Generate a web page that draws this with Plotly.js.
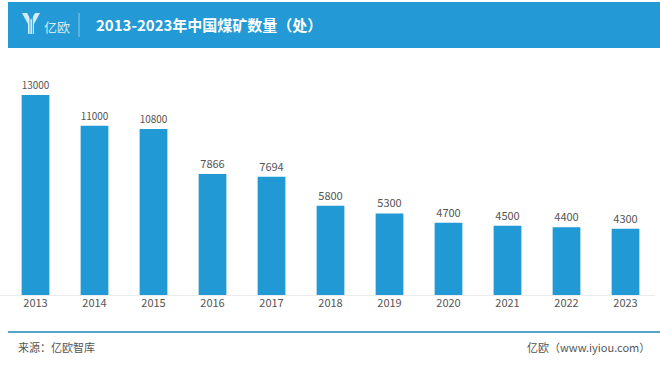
<!DOCTYPE html>
<html>
<head>
<meta charset="utf-8">
<script src="https://cdn.plot.ly/plotly-3.0.1.min.js"></script>
<style>html,body{margin:0;padding:0;background:#fff;}#chart{width:660px;height:375px;}</style>
</head>
<body>
<div id="chart"></div>
<script>
const years = ["2013","2014","2015","2016","2017","2018","2019","2020","2021","2022","2023"];
const mineCounts = [13000, 11000, 10800, 7866, 7694, 5800, 5300, 4700, 4500, 4400, 4300];
const titleText = "2013-2023年中国煤矿数量（处）";
const sourceText = "来源：亿欧智库";
const creditText = "亿欧（www.iyiou.com）";
const brandText = "亿欧";

const W = 660, H = 375;
const px = x => x / W;
const py = y => (H - y) / H;
function pathFrom(pts) {
  return pts.map((p, i) => (i ? 'L' : 'M') + px(p[0]).toFixed(5) + ',' + py(p[1]).toFixed(5)).join(' ') + ' Z';
}
const FONT = '"Noto Sans CJK SC", "Noto Sans", sans-serif';
const HEADER = '#239ad5';
const BAR = '#2199d4';

const shapes = [
  {type:'rect', xref:'paper', yref:'paper', x0:px(8), x1:px(660), y0:py(48), y1:py(2), fillcolor:HEADER, line:{width:0}, layer:'below'},
  {type:'path', xref:'paper', yref:'paper', path:pathFrom([[22,13],[27,13],[31,20],[35,13],[40,13],[34,24],[34,34],[28,34],[28,24]]), fillcolor:'#d4ebf7', line:{width:0}},
  {type:'line', xref:'paper', yref:'paper', x0:px(30), x1:px(30), y0:py(14), y1:py(34), line:{color:HEADER, width:0.8}},
  {type:'line', xref:'paper', yref:'paper', x0:px(32.5), x1:px(32.5), y0:py(14), y1:py(34), line:{color:HEADER, width:0.8}},
  {type:'line', xref:'paper', yref:'paper', x0:px(79), x1:px(79), y0:py(13), y1:py(37), line:{color:'#8fcbea', width:1}},
  {type:'line', xref:'paper', yref:'paper', x0:px(0), x1:px(655), y0:py(295.5), y1:py(295.5), line:{color:'#ebebeb', width:1}},
  {type:'line', xref:'paper', yref:'paper', x0:px(8), x1:px(660), y0:py(332), y1:py(332), line:{color:'#55a6c6', width:2}}
];

const annotations = [
  {xref:'paper', yref:'paper', x:px(42), y:py(26), xanchor:'left', yanchor:'middle', text:brandText, showarrow:false, font:{family:FONT, size:13, color:'#d4ebf7'}},
  {xref:'paper', yref:'paper', x:px(94), y:py(25), xanchor:'left', yanchor:'middle', text:'<b>' + titleText + '</b>', showarrow:false, font:{family:FONT, size:15, color:'#ffffff'}},
  {xref:'paper', yref:'paper', x:px(16), y:py(347), xanchor:'left', yanchor:'middle', text:sourceText, showarrow:false, font:{family:FONT, size:11, color:'#555555'}},
  {xref:'paper', yref:'paper', x:px(652), y:py(347), xanchor:'right', yanchor:'middle', text:creditText, showarrow:false, font:{family:FONT, size:11, color:'#555555'}}
];

const trace = {
  type:'bar', x:years, y:mineCounts,
  marker:{color:BAR, line:{width:0}},
  text:mineCounts.map(String), textposition:'outside', cliponaxis:false,
  textfont:{family:FONT, size:11, color:'#555555'},
  hoverinfo:'x+y'
};

const layout = {
  width:W, height:H,
  margin:{l:0, r:0, t:0, b:0},
  paper_bgcolor:'#ffffff', plot_bgcolor:'rgba(0,0,0,0)',
  showlegend:false,
  bargap:0.53,
  xaxis:{domain:[px(6), px(655)], type:'category', showgrid:false, zeroline:false, showline:false, ticks:'',
         tickfont:{family:FONT, size:11, color:'#555555'}, fixedrange:true},
  yaxis:{domain:[py(295), py(72)], range:[0, 14500], showgrid:false, zeroline:false, showline:false, showticklabels:false, ticks:'', fixedrange:true},
  shapes:shapes, annotations:annotations
};

Plotly.newPlot('chart', [trace], layout, {displayModeBar:false, staticPlot:true});
</script>
</body>
</html>
